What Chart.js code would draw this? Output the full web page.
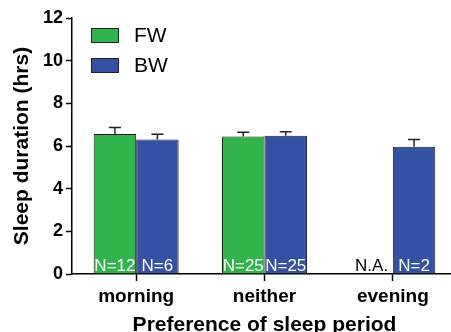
<!DOCTYPE html>
<html>
<head>
<meta charset="utf-8">
<script src="https://cdn.jsdelivr.net/npm/chart.js@4"></script>
<style>
  html, body { margin: 0; padding: 0; background: #fff; overflow: hidden; }
  #wrap { width: 451px; height: 332px; overflow: hidden; }
</style>
</head>
<body>
<div id="wrap"><canvas id="sleepChart" width="458" height="332"></canvas></div>
<script>
// values
const categories = ["morning", "neither", "evening"];
const fwMeans = [6.56, 6.45, null];
const fwErr = [0.31, 0.19, null];
const bwMeans = [6.31, 6.48, 5.97];
const bwErr = [0.24, 0.19, 0.33];
const fwN = ["N=12", "N=25", "N.A."];
const bwN = ["N=6", "N=25", "N=2"];
const yTicks = [0, 2, 4, 6, 8, 10, 12];

const green = "#2fb34a";
const blue = "#3451a3";
const font = "'Liberation Sans', Arial, sans-serif";

// error bars (upper only) + N labels inside the bars
const barExtras = {
    id: "barExtras",
    afterDatasetsDraw(chart) {
        const ctx = chart.ctx;
        const y = chart.scales.y;
        const errs = [fwErr, bwErr];
        const labels = [fwN, bwN];
        ctx.save();
        chart.data.datasets.forEach((ds, di) => {
            const meta = chart.getDatasetMeta(di);
            meta.data.forEach((bar, i) => {
                const v = ds.data[i];
                if (v != null) {
                    const top = y.getPixelForValue(v + errs[di][i]);
                    ctx.strokeStyle = "#222";
                    ctx.lineWidth = 1.5;
                    ctx.beginPath();
                    ctx.moveTo(bar.x, bar.y);
                    ctx.lineTo(bar.x, top);
                    ctx.moveTo(bar.x - 6, top);
                    ctx.lineTo(bar.x + 6, top);
                    ctx.stroke();
                }
                ctx.font = "17px " + font;
                ctx.textAlign = "center";
                ctx.textBaseline = "alphabetic";
                ctx.fillStyle = v == null ? "#000" : "#fff";
                ctx.fillText(labels[di][i], bar.x, y.getPixelForValue(0) - 3);
            });
        });
        ctx.restore();
    }
};

// legend in the top-left corner of the plot
const cornerLegend = {
    id: "cornerLegend",
    afterDraw(chart) {
        const ctx = chart.ctx;
        ctx.save();
        chart.data.datasets.forEach((ds, i) => {
            const top = 28 + i * 30;
            ctx.fillStyle = ds.backgroundColor;
            ctx.fillRect(91, top, 28, 15);
            ctx.strokeStyle = "#222";
            ctx.lineWidth = 1;
            ctx.strokeRect(91.5, top + 0.5, 27, 14);
            ctx.fillStyle = "#000";
            ctx.font = "21px " + font;
            ctx.textAlign = "left";
            ctx.textBaseline = "middle";
            ctx.fillText(ds.label, 134, top + 8);
        });
        ctx.restore();
    }
};

new Chart(document.getElementById("sleepChart"), {
    type: "bar",
    data: {
        labels: categories,
        datasets: [
            { label: "FW", data: fwMeans, backgroundColor: green, borderColor: "#222", borderWidth: 1, borderSkipped: "bottom" },
            { label: "BW", data: bwMeans, backgroundColor: blue, borderColor: "#222", borderWidth: 1, borderSkipped: "bottom" }
        ]
    },
    options: {
        responsive: false,
        animation: false,
        layout: { padding: { top: 18, right: 1, left: 0, bottom: 0 } },
        plugins: { legend: { display: false }, tooltip: { enabled: false } },
        datasets: { bar: { barPercentage: 1, categoryPercentage: 0.662 } },
        scales: {
            x: {
                grid: { display: true, drawOnChartArea: false, offset: false, tickLength: 7, tickColor: "#000", tickWidth: 1.5 },
                border: { color: "#000", width: 1.5 },
                ticks: { color: "#000", font: { family: font, size: 19, weight: "bold" }, padding: 4 },
                title: { display: true, text: "Preference of sleep period", color: "#000", font: { family: font, size: 21, weight: "bold" }, padding: { top: 0, bottom: -6 } },
                afterFit(s) { s.height = 58; s.paddingLeft = 0; s.paddingRight = 0; }
            },
            y: {
                min: 0, max: 12,
                afterBuildTicks(s) { s.ticks = yTicks.map(v => ({ value: v })); },
                grid: { display: true, drawOnChartArea: false, tickLength: 6, tickColor: "#000", tickWidth: 1.5 },
                border: { color: "#000", width: 1.5 },
                ticks: { color: "#000", font: { family: font, size: 18, weight: "bold" }, padding: 3 },
                title: { display: true, text: "Sleep duration (hrs)", color: "#000", font: { family: font, size: 21, weight: "bold" }, padding: { top: 10, bottom: 0 } },
                afterFit(s) { s.width = 72; s.paddingTop = 0; s.paddingBottom = 0; }
            }
        }
    },
    plugins: [barExtras, cornerLegend]
});
</script>
</body>
</html>
